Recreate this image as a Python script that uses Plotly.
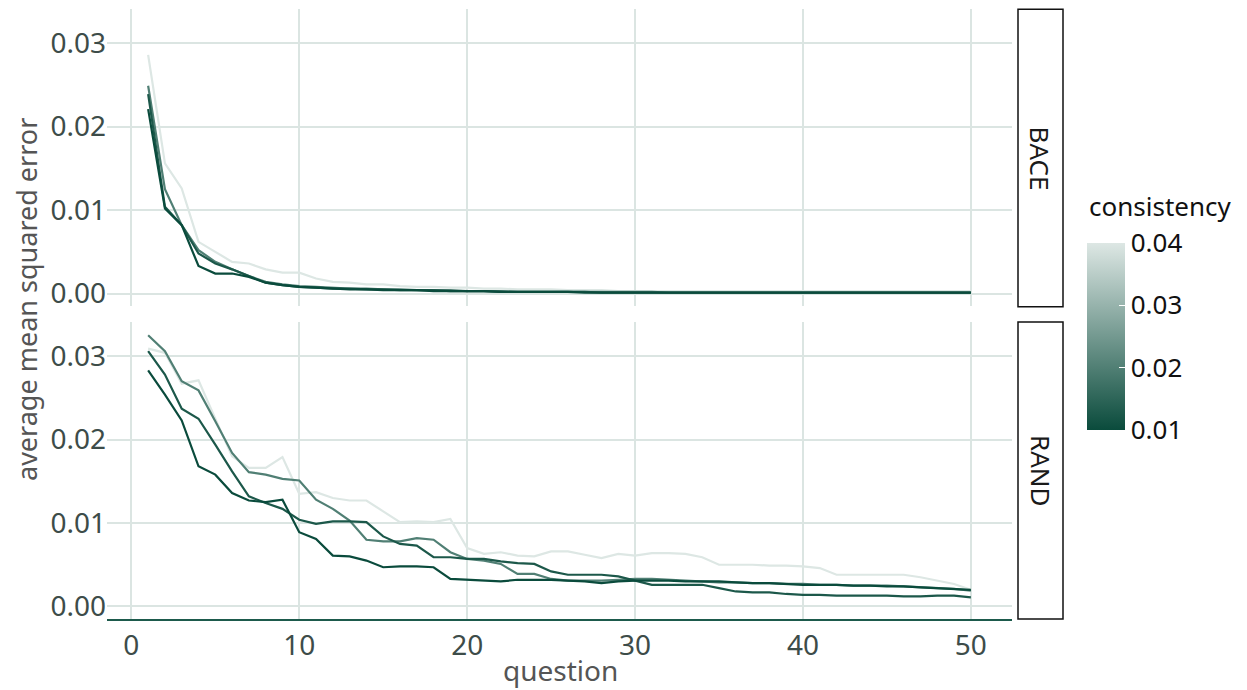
import plotly.graph_objects as go
from plotly.subplots import make_subplots
from plotly.colors import sample_colorscale

question = list(range(1, 51))
consistency = [0.01, 0.0125, 0.02, 0.04]
facets = ["BACE", "RAND"]

# BACE facet
bace_c010 = [0.0221, 0.0102, 0.0082, 0.0033, 0.0024, 0.0024, 0.0020, 0.0013, 0.0010, 0.0008,
             0.0007, 0.0006, 0.0005, 0.0005, 0.0004, 0.0004, 0.0004, 0.0003, 0.0003, 0.0003,
             0.0003, 0.0002, 0.0002, 0.0002, 0.0002, 0.0002, 0.0001, 0.0001, 0.0001, 0.0001,
             0.0001, 0.0001, 0.0001, 0.0001, 0.0001, 0.0001, 0.0001, 0.0001, 0.0001, 0.0001,
             0.0001, 0.0001, 0.0001, 0.0001, 0.0001, 0.0001, 0.0001, 0.0001, 0.0001, 0.0001]
bace_c0125 = [0.0239, 0.0104, 0.0082, 0.0048, 0.0036, 0.0029, 0.0021, 0.0013, 0.0010, 0.0008,
              0.0007, 0.0006, 0.0006, 0.0005, 0.0005, 0.0004, 0.0004, 0.0004, 0.0003, 0.0003,
              0.0003, 0.0002, 0.0002, 0.0002, 0.0002, 0.0002, 0.0002, 0.0001, 0.0001, 0.0001,
              0.0001, 0.0001, 0.0001, 0.0001, 0.0001, 0.0001, 0.0001, 0.0001, 0.0001, 0.0001,
              0.0001, 0.0001, 0.0001, 0.0001, 0.0001, 0.0001, 0.0001, 0.0001, 0.0001, 0.0001]
bace_c020 = [0.0249, 0.0125, 0.0082, 0.0052, 0.0038, 0.0029, 0.0021, 0.0014, 0.0011, 0.0009,
             0.0008, 0.0007, 0.0006, 0.0006, 0.0005, 0.0005, 0.0004, 0.0004, 0.0004, 0.0003,
             0.0003, 0.0003, 0.0002, 0.0002, 0.0002, 0.0002, 0.0002, 0.0002, 0.0002, 0.0002,
             0.0002, 0.0001, 0.0001, 0.0001, 0.0001, 0.0001, 0.0001, 0.0001, 0.0001, 0.0001,
             0.0001, 0.0001, 0.0001, 0.0001, 0.0001, 0.0001, 0.0001, 0.0001, 0.0001, 0.0001]
bace_c040 = [0.0286, 0.0156, 0.0126, 0.0062, 0.0050, 0.0038, 0.0036, 0.0029, 0.0025, 0.0025,
             0.0018, 0.0014, 0.0013, 0.0011, 0.0011, 0.0009, 0.0008, 0.0008, 0.0007, 0.0007,
             0.0006, 0.0006, 0.0005, 0.0005, 0.0005, 0.0004, 0.0004, 0.0004, 0.0003, 0.0003,
             0.0003, 0.0003, 0.0003, 0.0003, 0.0003, 0.0003, 0.0003, 0.0003, 0.0003, 0.0003,
             0.0003, 0.0003, 0.0003, 0.0003, 0.0003, 0.0003, 0.0003, 0.0003, 0.0003, 0.0003]

# RAND facet
rand_c010 = [0.0283, 0.0254, 0.0223, 0.0168, 0.0158, 0.0136, 0.0127, 0.0125, 0.0128, 0.0089,
             0.0081, 0.0061, 0.0060, 0.0055, 0.0047, 0.0048, 0.0048, 0.0047, 0.0033, 0.0032,
             0.0031, 0.0030, 0.0032, 0.0032, 0.0032, 0.0031, 0.0030, 0.0028, 0.0030, 0.0031,
             0.0031, 0.0031, 0.0030, 0.0030, 0.0030, 0.0029, 0.0028, 0.0028, 0.0027, 0.0026,
             0.0026, 0.0026, 0.0025, 0.0025, 0.0024, 0.0024, 0.0023, 0.0022, 0.0021, 0.0020]
rand_c0125 = [0.0306, 0.0278, 0.0237, 0.0225, 0.0194, 0.0162, 0.0132, 0.0124, 0.0117, 0.0104,
              0.0099, 0.0102, 0.0102, 0.0101, 0.0084, 0.0075, 0.0073, 0.0059, 0.0059, 0.0057,
              0.0057, 0.0054, 0.0052, 0.0051, 0.0042, 0.0038, 0.0038, 0.0038, 0.0036, 0.0031,
              0.0026, 0.0026, 0.0026, 0.0026, 0.0022, 0.0018, 0.0017, 0.0017, 0.0015, 0.0014,
              0.0014, 0.0013, 0.0013, 0.0013, 0.0013, 0.0012, 0.0012, 0.0013, 0.0013, 0.0011]
rand_c020 = [0.0325, 0.0306, 0.0270, 0.0259, 0.0222, 0.0184, 0.0161, 0.0158, 0.0153, 0.0151,
             0.0128, 0.0117, 0.0103, 0.0080, 0.0078, 0.0078, 0.0082, 0.0080, 0.0065, 0.0057,
             0.0055, 0.0051, 0.0039, 0.0039, 0.0033, 0.0031, 0.0031, 0.0031, 0.0032, 0.0033,
             0.0033, 0.0032, 0.0031, 0.0030, 0.0029, 0.0029, 0.0028, 0.0028, 0.0027, 0.0027,
             0.0026, 0.0026, 0.0025, 0.0025, 0.0025, 0.0024, 0.0023, 0.0022, 0.0021, 0.0019]
rand_c040 = [0.0309, 0.0304, 0.0267, 0.0271, 0.0225, 0.0180, 0.0166, 0.0166, 0.0179, 0.0135,
             0.0137, 0.0130, 0.0127, 0.0127, 0.0114, 0.0101, 0.0102, 0.0101, 0.0105, 0.0070,
             0.0063, 0.0065, 0.0061, 0.0060, 0.0066, 0.0066, 0.0062, 0.0058, 0.0063, 0.0061,
             0.0064, 0.0064, 0.0063, 0.0059, 0.0050, 0.0050, 0.0050, 0.0049, 0.0049, 0.0048,
             0.0046, 0.0038, 0.0038, 0.0038, 0.0038, 0.0038, 0.0035, 0.0031, 0.0027, 0.0020]

bace_series = [bace_c010, bace_c0125, bace_c020, bace_c040]
rand_series = [rand_c010, rand_c0125, rand_c020, rand_c040]

y_ticks = [0.00, 0.01, 0.02, 0.03]
y_ticktext = ["0.00", "0.01", "0.02", "0.03"]
x_ticks = [0, 10, 20, 30, 40, 50]
cb_ticks = [0.01, 0.02, 0.03, 0.04]
cb_ticktext = ["0.01", "0.02", "0.03", "0.04"]

cmin, cmax = 0.01, 0.04
colorscale = [[0.0, "#0a4b3c"], [1.0, "#dde7e4"]]

FONT = "Noto Sans"
TICK_COL = "#3d4c49"
TITLE_COL = "#555555"
GRID = "#dbe5e2"

# page has an 8px body margin; figure is sized so the plot lands on the same pixels
W, H = 1239, 682
L, T, PW, PH = 99, 1, 905, 610
R, B = W - L - PW, H - T - PH

fig = make_subplots(rows=2, cols=1, shared_xaxes=True, vertical_spacing=0.027)

order = sorted(range(len(consistency)), key=lambda i: -consistency[i])
for row, series in ((1, bace_series), (2, rand_series)):
    for i in order:
        col = sample_colorscale(colorscale, [(consistency[i] - cmin) / (cmax - cmin)])[0]
        fig.add_trace(go.Scatter(x=question, y=series[i], mode="lines",
                                 line=dict(color=col, width=2.2),
                                 showlegend=False, hoverinfo="skip"), row=row, col=1)

# colour bar
fig.add_trace(go.Scatter(x=[None], y=[None], mode="markers", showlegend=False,
                         marker=dict(color=[cmin], cmin=cmin, cmax=cmax, colorscale=colorscale,
                                     showscale=True,
                                     colorbar=dict(
                                         tickvals=cb_ticks, ticktext=cb_ticktext,
                                         tickfont=dict(family=FONT, size=26, color="#111"),
                                         ticks="inside", ticklen=6, tickcolor="white", tickwidth=1,
                                         outlinewidth=0, thickness=38,
                                         lenmode="pixels", len=187,
                                         x=(1087 - 107) / PW, xanchor="left", xpad=0,
                                         y=(619 - 336.5) / PH, yanchor="middle", ypad=0))),
              row=2, col=1)

fig.add_annotation(xref="paper", yref="paper", x=(1087 - 107) / PW, y=(619 - 206) / PH,
                   text="consistency", showarrow=False, xanchor="left", yanchor="middle",
                   font=dict(family=FONT, size=26, color="#111"))

y_range = [-0.0015, 0.0341]
x_range = [-1.45, 52.45]
for r in (1, 2):
    fig.update_yaxes(range=y_range, tickvals=y_ticks, ticktext=y_ticktext,
                     showgrid=True, gridcolor=GRID, gridwidth=1.6, zeroline=False,
                     tickfont=dict(family=FONT, size=28, color=TICK_COL),
                     ticks="", showline=False, row=r, col=1)
    fig.update_xaxes(range=x_range, tickvals=x_ticks, showgrid=True, gridcolor=GRID,
                     gridwidth=1.6, zeroline=False, ticks="",
                     tickfont=dict(family=FONT, size=28, color=TICK_COL), row=r, col=1)
fig.update_xaxes(showline=True, linecolor="#1d5a4c", linewidth=2, row=2, col=1)

fig.update_layout(
    width=W, height=H,
    margin=dict(l=L, r=R, t=T, b=B, autoexpand=False),
    plot_bgcolor="white", paper_bgcolor="white",
    font=dict(family=FONT),
    yaxis=dict(domain=[0.513, 1.0]),
    yaxis2=dict(domain=[0.0, 0.487]),
)

# facet strips
strip_x0 = (1018 - 107) / PW
strip_x1 = (1063 - 107) / PW
for (y0, y1), name in zip(((0.512, 0.9995), (0.0, 0.487)), facets):
    fig.add_shape(type="rect", xref="paper", yref="paper", x0=strip_x0, x1=strip_x1,
                  y0=y0, y1=y1, line=dict(color="#111", width=1.5), fillcolor="white")
    fig.add_annotation(xref="paper", yref="paper", x=(strip_x0 + strip_x1) / 2, y=(y0 + y1) / 2,
                       text=name, textangle=90, showarrow=False,
                       xanchor="center", yanchor="middle",
                       font=dict(family=FONT, size=26, color="#1a1a1a"))

# axis titles
fig.add_annotation(xref="paper", yref="paper", x=(27 - 107) / PW, y=(619 - 300) / PH,
                   text="average mean squared error",
                   textangle=-90, showarrow=False, xanchor="center", yanchor="middle",
                   font=dict(family=FONT, size=27, color=TITLE_COL))
fig.add_annotation(xref="paper", yref="paper", x=(560 - 107) / PW, y=(619 - 670) / PH,
                   text="question", showarrow=False, xanchor="center", yanchor="middle",
                   font=dict(family=FONT, size=28, color=TITLE_COL))

fig.write_html("out.html")
